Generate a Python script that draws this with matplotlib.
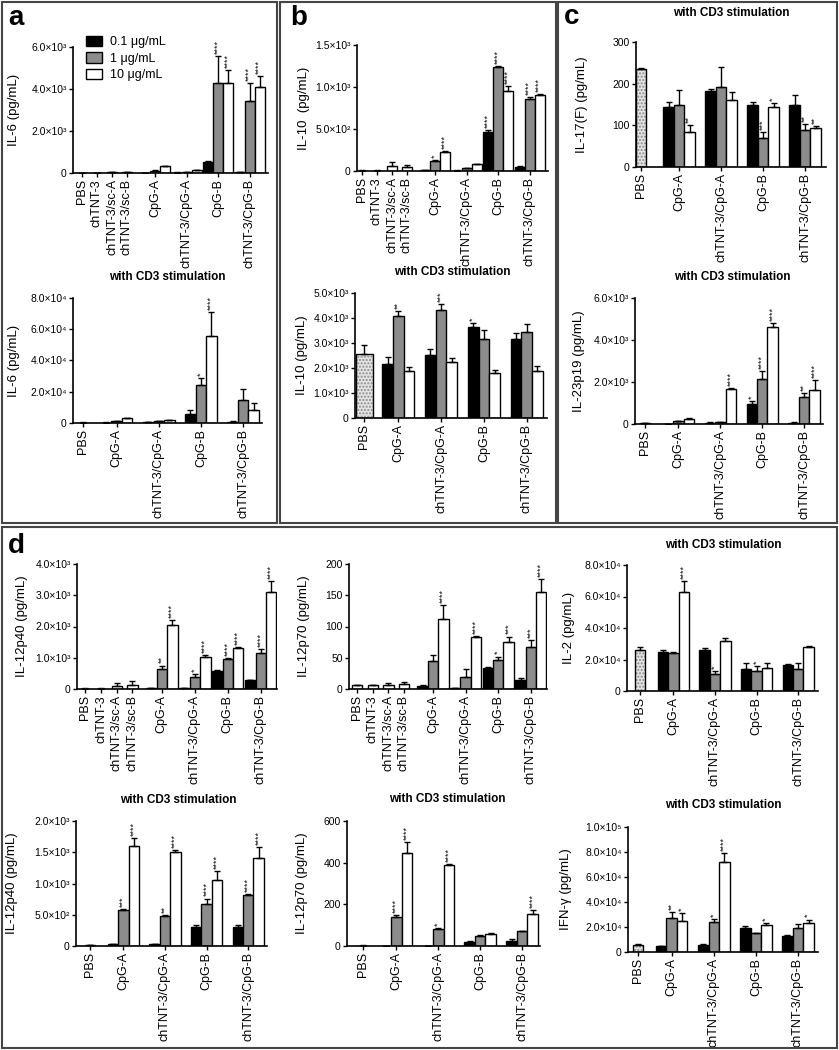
import matplotlib.pyplot as plt
from matplotlib.patches import Rectangle, Patch

plt.rcParams['font.family'] = ['Liberation Sans', 'DejaVu Sans']

W, H = 839, 1050

doses = ['0.1 μg/mL', '1 μg/mL', '10 μg/mL']
dose_colors = ['black', '#8c8c8c', 'white']

cats8 = ['PBS', 'chTNT-3', 'chTNT-3/sc-A', 'chTNT-3/sc-B',
         'CpG-A', 'chTNT-3/CpG-A', 'CpG-B', 'chTNT-3/CpG-B']
cats5 = ['PBS', 'CpG-A', 'chTNT-3/CpG-A', 'CpG-B', 'chTNT-3/CpG-B']

# rows = dose (0.1, 1, 10), cols = CpG-A, chTNT-3/CpG-A, CpG-B, chTNT-3/CpG-B
# panel a, IL-6
a1_ctrl = [3, 3, 30, 30]
a1_ctrl_err = [5, 5, 60, 50]
a1_vals = [[10, 20, 520, 30], [100, 40, 4300, 3450], [320, 130, 4300, 4100]]
a1_err = [[15, 25, 560, 40], [120, 50, 5550, 4300], [340, 150, 4900, 4600]]
a1_stars = [['', '', '', ''], ['', '', '****', '****'], ['', '', '****', '****']]

a2_ctrl = [300]
a2_ctrl_err = [400]
a2_vals = [[300, 400, 6000, 800], [1200, 1000, 24000, 15000], [3000, 1600, 55500, 8500]]
a2_err = [[400, 500, 8000, 1000], [1500, 1200, 29000, 22000], [3500, 1900, 71000, 12500]]
a2_stars = [['', '', '', ''], ['', '', '*', ''], ['', '', '****', '']]

# panel b, IL-10
b1_ctrl = [5, 5, 60, 45]
b1_ctrl_err = [8, 8, 110, 75]
b1_vals = [[10, 5, 470, 45], [120, 35, 1235, 860], [230, 80, 950, 905]]
b1_err = [[12, 7, 490, 55], [130, 40, 1250, 880], [240, 85, 1010, 915]]
b1_stars = [['', '', '****', ''], ['*', '', '****', '****'], ['****', '', '****', '****']]

b2_ctrl = [2550]
b2_ctrl_err = [2900]
b2_vals = [[2150, 2530, 3620, 3170], [4080, 4330, 3150, 3450], [1870, 2230, 1800, 1880]]
b2_err = [[2450, 2750, 3780, 3400], [4280, 4550, 3500, 3740], [2050, 2380, 1920, 2080]]
b2_stars = [['', '', '*', ''], ['**', '***', '', ''], ['', '', '', '']]

# panel c, IL-17(F) and IL-23p19
c1_ctrl = [236]
c1_ctrl_err = [238]
c1_vals = [[145, 182, 150, 149], [150, 192, 70, 90], [85, 161, 143, 93]]
c1_err = [[157, 188, 155, 172], [186, 240, 85, 103], [100, 181, 153, 98]]
c1_stars = [['', '', '', ''], ['', '', '***', '**'], ['**', '', '*', '**']]

c2_ctrl = [50]
c2_ctrl_err = [70]
c2_vals = [[10, 60, 930, 60], [120, 80, 2150, 1300], [260, 1680, 4600, 1630]]
c2_err = [[20, 80, 1080, 80], [150, 100, 2530, 1480], [300, 1720, 4800, 2100]]
c2_stars = [['', '', '*', ''], ['', '', '****', '**'], ['', '****', '****', '****']]

# panel d
d1_ctrl = [10, 10, 100, 130]
d1_ctrl_err = [20, 20, 180, 270]
d1_vals = [[30, 20, 580, 280], [640, 380, 970, 1150], [2050, 1040, 1300, 3120]]
d1_err = [[40, 30, 610, 300], [750, 490, 1000, 1280], [2200, 1100, 1350, 3450]]
d1_stars = [['', '', '', ''], ['**', '*', '****', '****'], ['****', '****', '****', '****']]

d2_ctrl = [6, 6, 6, 8]
d2_ctrl_err = [7, 7, 9, 12]
d2_vals = [[5, 1, 33, 15], [45, 20, 47, 68], [112, 84, 76, 155]]
d2_err = [[6, 1.5, 35, 17], [55, 32, 52, 78], [135, 84.5, 84, 176]]
d2_stars = [['', '', '', ''], ['', '', '*', '***'], ['****', '****', '***', '****']]

d3_ctrl = [26000]
d3_ctrl_err = [28000]
d3_vals = [[24500, 26000, 14000, 16500], [24000, 10500, 12500, 14000], [63000, 31500, 14500, 28000]]
d3_err = [[26000, 27000, 17500, 17000], [24500, 12500, 16000, 17500], [70000, 33500, 18000, 28500]]
d3_stars = [['', '', '', ''], ['', '*', '*', ''], ['****', '', '', '']]

d4_ctrl = [10]
d4_ctrl_err = [15]
d4_vals = [[30, 30, 300, 300], [580, 480, 680, 820], [1600, 1510, 1050, 1410]]
d4_err = [[40, 40, 340, 340], [585, 500, 760, 825], [1730, 1540, 1200, 1580]]
d4_stars = [['', '', '', ''], ['***', '**', '****', '****'], ['****', '****', '****', '****']]

d5_ctrl = [2]
d5_ctrl_err = [3]
d5_vals = [[1, 1, 20, 25], [138, 80, 48, 70], [445, 388, 60, 155]]
d5_err = [[2, 2, 22, 32], [148, 86, 54, 72], [500, 392, 62, 172]]
d5_stars = [['', '', '', ''], ['****', '*', '', ''], ['****', '****', '', '****']]

d6_ctrl = [5800]
d6_ctrl_err = [6500]
d6_vals = [[4500, 6000, 19500, 13000], [27000, 23800, 15000, 19000], [24500, 72000, 22000, 23000]]
d6_err = [[5000, 6500, 21000, 13500], [32000, 26500, 15500, 22500], [31000, 79500, 23500, 26000]]
d6_stars = [['', '', '', ''], ['**', '*', '', ''], ['*', '****', '*', '*']]

SUP = str.maketrans('0123456789', '⁰¹²³⁴⁵⁶⁷⁸⁹')


def sci(v):
    if v == 0:
        return '0'
    e = 0
    m = float(v)
    while m >= 10:
        m /= 10
        e += 1
    return f'{m:.1f}×10' + str(e).translate(SUP)


fig = plt.figure(figsize=(W / 100, H / 100), dpi=100)


def add_ax(L, T, R, B):
    return fig.add_axes([L / W, 1 - B / H, (R - L) / W, (B - T) / H])


def draw(box, cats, ctrl, ctrl_err, vals, errs, stars, top, step, ylabel,
         xlim, g0=3.2, labx=None, sci_fmt=True, dotted=True, pbs_w=1.0):
    ax = add_ax(*box)
    L, T, R, B = box
    if len(cats) == 8:
        cpos = [0, 1.5, 3, 4.5]
        gpos = [7.3 + 3.15 * k for k in range(4)]
    else:
        cpos = [0]
        gpos = [g0 + 4 * k for k in range(4)]
    # controls
    for x, v, e in zip(cpos, ctrl, ctrl_err):
        if dotted and len(cats) == 5:
            ax.bar(x, v, width=pbs_w, color='#e4e4e4', hatch='.....',
                   edgecolor='#8a8a8a', linewidth=0, zorder=2)
            ax.bar(x, v, width=pbs_w, fill=False, edgecolor='black', linewidth=1, zorder=3)
        else:
            ax.bar(x, v, width=1, color='white', edgecolor='black', linewidth=1, zorder=2)
        ax.errorbar(x, v, yerr=[[0], [max(e - v, 0)]], fmt='none', ecolor='black',
                    elinewidth=1, capsize=2.2, capthick=1, zorder=4)
    # dose groups
    for i in range(3):
        xs = [g + (i - 1) for g in gpos]
        ax.bar(xs, vals[i], width=1, color=dose_colors[i], edgecolor='black',
               linewidth=1, zorder=2)
        for x, v, e, s in zip(xs, vals[i], errs[i], stars[i]):
            ax.errorbar(x, v, yerr=[[0], [max(e - v, 0)]], fmt='none', ecolor='black',
                        elinewidth=1, capsize=2.2, capthick=1, zorder=4)
            if s:
                ax.annotate(s, (x, e), xytext=(0, 1.5), textcoords='offset points',
                            rotation=90, ha='center', va='bottom', fontsize=6.5,
                            color='#111111')
    ax.set_xlim(*xlim)
    ax.set_ylim(0, top)
    ticks = [step * k for k in range(int(round(top / step)) + 1)]
    ax.set_yticks(ticks)
    ax.set_yticklabels([sci(t) if sci_fmt else f'{t:g}' for t in ticks], fontsize=7.5)
    ax.set_xticks(cpos + gpos)
    ax.set_xticklabels(cats, rotation=90, fontsize=9)
    for sp in ['top', 'right']:
        ax.spines[sp].set_visible(False)
    for sp in ['left', 'bottom']:
        ax.spines[sp].set_linewidth(1.2)
    ax.tick_params(axis='both', length=3, width=1, pad=1.5)
    ax.set_ylabel(ylabel, fontsize=9.5)
    if labx is not None:
        ax.yaxis.set_label_coords((labx - L) / (R - L), 0.5)
    ax.set_facecolor('none')
    return ax


# panel a
ax_a1 = draw((73, 47, 268, 173), cats8, a1_ctrl, a1_ctrl_err, a1_vals, a1_err, a1_stars,
             6000, 2000, 'IL-6 (pg/mL)', (-0.9, 18.6), labx=20)
ax_a1.legend([Patch(facecolor=c, edgecolor='black', linewidth=1) for c in dose_colors], doses,
             loc='upper left', bbox_to_anchor=(86 / W, 1 - 36 / H), bbox_transform=fig.transFigure,
             frameon=False, fontsize=9, handlelength=1.3, handleheight=0.9,
             labelspacing=0.3, handletextpad=0.6, borderaxespad=0, borderpad=0)
draw((73, 298, 262, 423), cats5, a2_ctrl, a2_ctrl_err, a2_vals, a2_err, a2_stars,
     80000, 20000, 'IL-6 (pg/mL)', (-0.95, 17.0), labx=20)

# panel b
draw((357, 45, 548, 171), cats8, b1_ctrl, b1_ctrl_err, b1_vals, b1_err, b1_stars,
     1500, 500, 'IL-10  (pg/mL)', (-0.5, 18.6), labx=310)
draw((355, 293, 547, 418), cats5, b2_ctrl, b2_ctrl_err, b2_vals, b2_err, b2_stars,
     5000, 1000, 'IL-10 (pg/mL)', (-0.85, 17.1), labx=308, pbs_w=1.6)

# panel c
draw((636, 42, 826, 167), cats5, c1_ctrl, c1_ctrl_err, c1_vals, c1_err, c1_stars,
     300, 100, 'IL-17(F) (pg/mL)', (-0.5, 17.6), g0=3.6, labx=588, sci_fmt=False)
draw((635, 298, 823, 424), cats5, c2_ctrl, c2_ctrl_err, c2_vals, c2_err, c2_stars,
     6000, 2000, 'IL-23p19 (pg/mL)', (-0.95, 17.0), labx=585)

# panel d
draw((77, 564, 277, 689), cats8, d1_ctrl, d1_ctrl_err, d1_vals, d1_err, d1_stars,
     4000, 1000, 'IL-12p40 (pg/mL)', (-0.8, 18.3), labx=28)
draw((349, 564, 547, 689), cats8, d2_ctrl, d2_ctrl_err, d2_vals, d2_err, d2_stars,
     200, 50, 'IL-12p70 (pg/mL)', (-0.8, 18.3), labx=310, sci_fmt=False)
draw((627, 565, 818, 691), cats5, d3_ctrl, d3_ctrl_err, d3_vals, d3_err, d3_stars,
     80000, 20000, 'IL-2 (pg/mL)', (-1.25, 17.1), labx=575)
draw((76, 821, 267, 946), cats5, d4_ctrl, d4_ctrl_err, d4_vals, d4_err, d4_stars,
     2000, 500, 'IL-12p40 (pg/mL)', (-1.35, 17.0), labx=18)
draw((347, 821, 540, 946), cats5, d5_ctrl, d5_ctrl_err, d5_vals, d5_err, d5_stars,
     600, 200, 'IL-12p70 (pg/mL)', (-1.5, 16.9), labx=308, sci_fmt=False)
draw((628, 827, 818, 952), cats5, d6_ctrl, d6_ctrl_err, d6_vals, d6_err, d6_stars,
     100000, 20000, 'IFN-γ (pg/mL)', (-0.95, 17.1), labx=572)

# subplot titles
for x, y in [(167, 277), (452, 272), (731, 13), (732, 277), (723, 545), (178, 800), (447, 799), (723, 805)]:
    fig.text(x / W, 1 - y / H, 'with CD3 stimulation', ha='center', va='center',
             fontsize=8.5, fontweight='bold')

# panel letters
for s, x, y in [('a', 16, 18), ('b', 299, 18), ('c', 572, 17), ('d', 16, 546)]:
    fig.text(x / W, 1 - y / H, s, ha='center', va='center', fontsize=20, fontweight='bold')

# panel frames
for x0, y0, x1, y1 in [(2, 2, 277, 523), (280, 2, 556, 523), (558, 2, 837, 523), (2, 527, 837, 1048)]:
    fig.patches.append(Rectangle((x0 / W, 1 - y1 / H), (x1 - x0) / W, (y1 - y0) / H,
                                 transform=fig.transFigure, fill=False,
                                 edgecolor='#454545', linewidth=1.5))

fig.savefig('out.png', dpi=100)
